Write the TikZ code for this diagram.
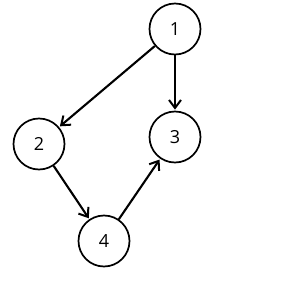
\documentclass[tikz,border=0pt]{standalone}
\usepackage{fontspec}
\setmainfont{Open Sans}
\usetikzlibrary{arrows.meta}

\begin{document}
\begin{tikzpicture}[x=1pt, y=-1pt,
    vertex/.style={circle, draw, line width=1.7pt, minimum size=51pt, inner sep=0pt,
      font=\fontsize{18}{21}\selectfont},
    link/.style={line width=2.1pt, -{Straight Barb[length=8pt, width=12pt, line width=2pt]}, shorten >=1pt}]
    \useasboundingbox (0,0) rectangle (287,290);
    % vertices
    \node[vertex] (v1) at (175,29) {1};
    \node[vertex] (v2) at (39,144) {2};
    \node[vertex] (v3) at (175,137) {3};
    \node[vertex] (v4) at (104,241) {4};
    % edges
    \draw[link] (v1) -- (v2);
    \draw[link] (v1) -- (v3);
    \draw[link] (v2) -- (v4);
    \draw[link] (v4) -- (v3);
\end{tikzpicture}
\end{document}
